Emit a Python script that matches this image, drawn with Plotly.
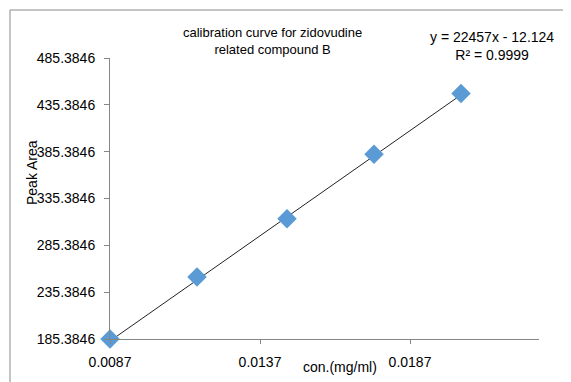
import plotly.graph_objects as go

# ---- data ----
conc = [0.0087, 0.0116, 0.0146, 0.0175, 0.0204]
peak_area = [185.4, 251.5, 313.8, 382.5, 447.5]
slope = 22457
intercept = -12.124
x_tickvals = [0.0087, 0.0137, 0.0187]
x_ticktext = ["0.0087", "0.0137", "0.0187"]
y_tickvals = [185.3846, 235.3846, 285.3846, 335.3846, 385.3846, 435.3846, 485.3846]
y_ticktext = ["185.3846", "235.3846", "285.3846", "335.3846", "385.3846", "435.3846", "485.3846"]
title_text = "calibration curve for zidovudine<br>related compound B"
equation_text = "y = 22457x - 12.124<br>R² = 0.9999"
x_title = "con.(mg/ml)"
y_title = "Peak Area"

FONT = "Liberation Sans"
AXIS_GRAY = "#868686"

trend_x = [conc[0], conc[-1]]
trend_y = [slope * v + intercept for v in trend_x]

fig = go.Figure()
fig.add_trace(go.Scatter(
    x=trend_x, y=trend_y, mode="lines",
    line=dict(color="#222222", width=1),
    hoverinfo="skip", showlegend=False, cliponaxis=False,
))
fig.add_trace(go.Scatter(
    x=conc, y=peak_area, mode="markers",
    marker=dict(symbol="diamond", size=15, color="#5B9BD5", line=dict(width=0)),
    showlegend=False, cliponaxis=False,
))

# page is 571x382; the html body adds an 8px margin, so the figure is offset
OFF = 8
PAGE_W, PAGE_H = 571, 382
W, H = PAGE_W - OFF, PAGE_H - OFF
# plot area in page pixels: left 110, right 538.7, top 58, bottom 339
L = 110 - OFF
T = 58 - OFF
R = PAGE_W - 539
B = PAGE_H - 339
pw, ph = W - L - R, H - T - B

def px(xp):  # page x pixel -> paper
    return (xp - OFF - L) / pw

def py(yp):  # page y pixel -> paper
    return (H - B - (yp - OFF)) / ph

fig.update_layout(
    width=W, height=H,
    margin=dict(l=L, r=R, t=T, b=B, pad=0),
    paper_bgcolor="white", plot_bgcolor="white",
    font=dict(family=FONT, size=14, color="#000000"),
    xaxis=dict(
        range=[0.0087, 0.0230],
        tickvals=x_tickvals, ticktext=x_ticktext,
        showline=True, linecolor=AXIS_GRAY, linewidth=1,
        ticks="outside", ticklen=4, tickcolor=AXIS_GRAY,
        showgrid=False, zeroline=False,
        ticklabelstandoff=6,
        tickfont=dict(size=14),
    ),
    yaxis=dict(
        range=[185.3846, 485.3846],
        tickvals=y_tickvals, ticktext=y_ticktext,
        showline=True, linecolor=AXIS_GRAY, linewidth=1,
        ticks="outside", ticklen=5, tickcolor=AXIS_GRAY,
        showgrid=False, zeroline=False,
        ticklabelstandoff=6,
        tickfont=dict(size=14),
    ),
    shapes=[dict(
        type="rect", xref="paper", yref="paper",
        x0=px(10), x1=px(PAGE_W + 20), y0=py(PAGE_H + 20), y1=py(10),
        line=dict(color="#898989", width=1), fillcolor="rgba(0,0,0,0)",
        layer="below",
    )],
    annotations=[
        dict(text=title_text, xref="paper", yref="paper", x=px(272), y=py(40.5),
             xanchor="center", yanchor="middle", showarrow=False,
             font=dict(size=13, family=FONT)),
        dict(text=equation_text, xref="paper", yref="paper", x=px(492), y=py(45.8),
             xanchor="center", yanchor="middle", showarrow=False,
             font=dict(size=14, family=FONT)),
        dict(text=y_title, xref="paper", yref="paper", x=px(32), y=py(173),
             xanchor="center", yanchor="middle", showarrow=False, textangle=-90,
             font=dict(size=14, family=FONT)),
        dict(text=x_title, xref="paper", yref="paper", x=px(340), y=py(367),
             xanchor="center", yanchor="middle", showarrow=False,
             font=dict(size=14, family=FONT)),
    ],
)

fig.write_html("out.html")
